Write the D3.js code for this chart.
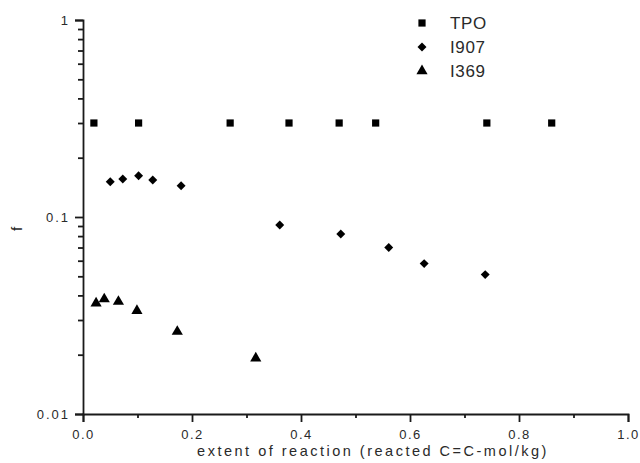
<!DOCTYPE html>
<html>
<head>
<meta charset="utf-8">
<script src="https://cdn.jsdelivr.net/npm/d3@7"></script>
<style>
  html, body { margin: 0; padding: 0; background: #fff; }
  svg { display: block; font-family: "Liberation Sans", Arial, sans-serif; }
</style>
</head>
<body>
<svg id="chart" width="640" height="463"></svg>
<script>
// Photoinitiator efficiency f vs. extent of reaction
const tpoX   = [0.020, 0.102, 0.270, 0.378, 0.470, 0.537, 0.741, 0.860];
const tpoF   = [0.300, 0.300, 0.300, 0.300, 0.300, 0.300, 0.300, 0.300];
const i907X  = [0.050, 0.073, 0.102, 0.128, 0.180, 0.361, 0.473, 0.561, 0.626, 0.738];
const i907F  = [0.151, 0.156, 0.162, 0.154, 0.144, 0.091, 0.082, 0.070, 0.058, 0.051];
const i369X  = [0.024, 0.039, 0.065, 0.099, 0.173, 0.317];
const i369F  = [0.0365, 0.0383, 0.0372, 0.0334, 0.0262, 0.0192];

const xMajor = [0, 0.2, 0.4, 0.6, 0.8, 1.0];
const xMinor = [0.1, 0.3, 0.5, 0.7, 0.9];
const yMajor = [0.01, 0.1, 1];
const yMinor = [0.02,0.03,0.04,0.05,0.06,0.07,0.08,0.09,0.2,0.3,0.4,0.5,0.6,0.7,0.8,0.9];
const yLabels = ["0.01", "0.1", "1"];

const seriesNames = ["TPO", "I907", "I369"];

const svg = d3.select("#chart");
const x = d3.scaleLinear().domain([0, 1]).range([83, 628]);
const y = d3.scaleLog().domain([0.01, 1]).range([414, 20]);

const ink = "#1a1a1a";
const textInk = "#2a2a2a";

// y axis: labelled decades, short unlabelled minor ticks
const yAxis = d3.axisLeft(y).tickValues(yMajor.concat(yMinor)).tickSize(8).tickPadding(5)
  .tickFormat(d => { const i = yMajor.indexOf(d); return i >= 0 ? yLabels[i] : ""; });
const gy = svg.append("g").attr("transform", `translate(${x(0)},0)`).call(yAxis);

// x axis
const xAxis = d3.axisBottom(x).tickValues(xMajor.concat(xMinor)).tickSize(8).tickPadding(8)
  .tickFormat(d => xMajor.includes(d) ? d3.format(".1f")(d) : "");
const gx = svg.append("g").attr("transform", `translate(0,${y(0.01)})`).call(xAxis);

svg.selectAll(".domain").attr("stroke", ink).attr("stroke-width", 1.8);
svg.selectAll(".tick line").attr("stroke", ink).attr("stroke-width", 1.8);
gy.selectAll(".tick").filter(d => yMinor.includes(d)).select("line").attr("x2", -5);
gx.selectAll(".tick").filter(d => xMinor.includes(d)).select("line").attr("y2", 4);

svg.selectAll(".tick text").attr("fill", textInk).attr("font-size", 13)
  .attr("font-family", "Liberation Sans, Arial, sans-serif");
gy.selectAll(".tick text").attr("letter-spacing", 2);
gx.selectAll(".tick text").attr("letter-spacing", 1.5);

// axis titles
svg.append("text").attr("x", 373).attr("y", 456).attr("text-anchor", "middle")
  .attr("font-size", 14.5).attr("fill", textInk).attr("letter-spacing", 2.5)
  .text("extent of reaction (reacted C=C-mol/kg)");
svg.append("text").attr("transform", "translate(22,229) rotate(-90)")
  .attr("text-anchor", "middle").attr("font-size", 15).attr("fill", textInk).text("f");

// marker shapes
const diamond = d3.symbol().type(d3.symbolSquare).size(40);
const sym = {
  TPO:  { gen: d3.symbol().type(d3.symbolSquare).size(52), rot: 0 },
  I907: { gen: diamond, rot: 45 },
  I369: { gen: d3.symbol().type(d3.symbolTriangle).size(54), rot: 0 }
};

function plot(name, xs, fs) {
  svg.append("g").selectAll("path").data(xs.map((v, i) => [v, fs[i]])).join("path")
    .attr("d", sym[name].gen())
    .attr("transform", d => `translate(${x(d[0])},${y(d[1])}) rotate(${sym[name].rot})`)
    .attr("fill", "#000");
}
plot("TPO", tpoX, tpoF);
plot("I907", i907X, i907F);
plot("I369", i369X, i369F);

// legend
const legend = svg.append("g");
seriesNames.forEach((n, i) => {
  const ly = 23 + i * 24;
  legend.append("path").attr("d", sym[n].gen())
    .attr("transform", `translate(422,${ly}) rotate(${sym[n].rot})`).attr("fill", "#000");
  legend.append("text").attr("x", 450).attr("y", ly).attr("dy", "0.36em")
    .attr("font-size", 17).attr("letter-spacing", 0.6).attr("fill", textInk).text(n);
});
</script>
</body>
</html>
